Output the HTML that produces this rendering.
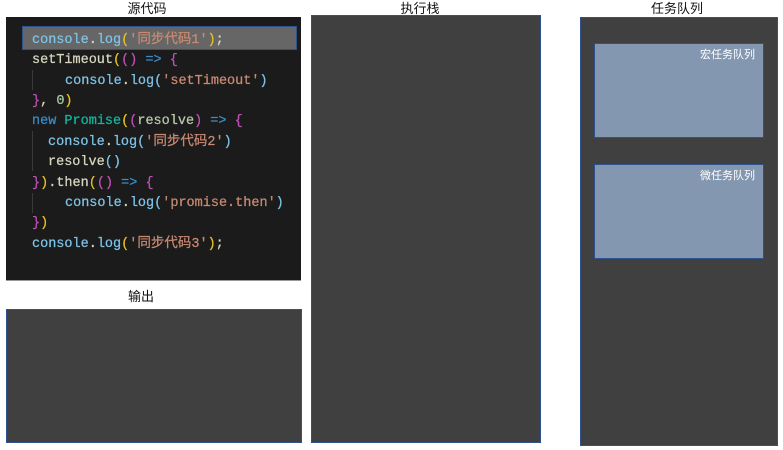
<!DOCTYPE html>
<html><head><meta charset="utf-8">
<style>
html,body{margin:0;padding:0;background:#fff;width:783px;height:450px;overflow:hidden}
body{position:relative;font-family:"Liberation Sans","Noto Sans CJK SC",sans-serif}
.b{position:absolute;box-sizing:border-box;background:#404040;border:1px solid #2f528f}
.t{position:absolute;font-size:13px;line-height:16px;color:#111;text-align:center;white-space:nowrap}
.q{position:absolute;box-sizing:border-box;background:#8497b0;border:1px solid #2f528f;color:#fff;font-size:11px;line-height:14px;text-align:right;padding:4px 8px 0 0}
#code{position:absolute;left:6px;top:17px;width:295px;height:264px;background:#1b1b1b;border-bottom:1px solid #999;box-sizing:border-box}
#hl{position:absolute;left:22px;top:26px;width:275px;height:24px;box-sizing:border-box;background:#666;border:1px solid #2f528f}
.l{position:absolute;font-family:"Liberation Mono","Noto Sans CJK SC",monospace;font-size:13.5px;line-height:20px;white-space:pre;color:#d4d4d4;font-weight:normal;-webkit-text-stroke:0.25px currentColor;filter:blur(0.25px)}
.g{position:absolute;width:1px;background:#3a3a3a}
.f{color:#7cc4e8}.s{color:#c98a72}.y{color:#e8c020}.p{color:#c050b8}.k{color:#3a8cc8}.c{color:#10b8a0}.v{color:#b8c8a8}.n{color:#a8c8a0}.w{color:#d8d8c0}
</style></head>
<body>
<div class="t" style="left:107px;top:1px;width:80px">源代码</div>
<div class="t" style="left:380px;top:1px;width:80px">执行栈</div>
<div class="t" style="left:637px;top:1px;width:80px">任务队列</div>
<div class="t" style="left:101px;top:289px;width:80px">输出</div>
<div id="code"></div>
<div id="hl"></div>
<div class="g" style="left:32px;top:70px;height:20px"></div>
<div class="g" style="left:32px;top:131px;height:40px"></div>
<div class="g" style="left:32px;top:193px;height:20px"></div>
<div class="l" style="left:32px;top:31px"><span class="f">console</span><span class="w">.</span><span class="f">log</span><span class="y">(</span><span class="s">'同步代码1'</span><span class="y">)</span><span class="w">;</span></div>
<div class="l" style="left:32px;top:51px"><span class="w">setTimeout</span><span class="y">(</span><span class="p">()</span> <span class="k">=&gt;</span> <span class="p">{</span></div>
<div class="l" style="left:65px;top:72px"><span class="f">console</span><span class="w">.</span><span class="f">log</span><span class="f">(</span><span class="s">'setTimeout'</span><span class="f">)</span></div>
<div class="l" style="left:32px;top:92px"><span class="p">}</span><span class="w">, </span><span class="n">0</span><span class="y">)</span></div>
<div class="l" style="left:32px;top:112px"><span class="k">new</span> <span class="c">Promise</span><span class="y">(</span><span class="p">(</span><span class="v">resolve</span><span class="p">)</span> <span class="k">=&gt;</span> <span class="p">{</span></div>
<div class="l" style="left:48px;top:133px"><span class="f">console</span><span class="w">.</span><span class="f">log</span><span class="f">(</span><span class="s">'同步代码2'</span><span class="f">)</span></div>
<div class="l" style="left:48px;top:153px"><span class="w">resolve</span><span class="f">()</span></div>
<div class="l" style="left:32px;top:174px"><span class="p">}</span><span class="y">)</span><span class="w">.then</span><span class="y">(</span><span class="p">()</span> <span class="k">=&gt;</span> <span class="p">{</span></div>
<div class="l" style="left:65px;top:194px"><span class="f">console</span><span class="w">.</span><span class="f">log</span><span class="f">(</span><span class="s">'promise.then'</span><span class="f">)</span></div>
<div class="l" style="left:32px;top:214px"><span class="p">}</span><span class="y">)</span></div>
<div class="l" style="left:32px;top:235px"><span class="f">console</span><span class="w">.</span><span class="f">log</span><span class="y">(</span><span class="s">'同步代码3'</span><span class="y">)</span><span class="w">;</span></div>
<div class="b" style="left:6px;top:309px;width:296px;height:134px"></div>
<div class="b" style="left:311px;top:15px;width:230px;height:428px"></div>
<div class="b" style="left:580px;top:17px;width:198px;height:429px"></div>
<div class="q" style="left:594px;top:43px;width:170px;height:95px">宏任务队列</div>
<div class="q" style="left:594px;top:164px;width:170px;height:95px">微任务队列</div>
</body></html>
